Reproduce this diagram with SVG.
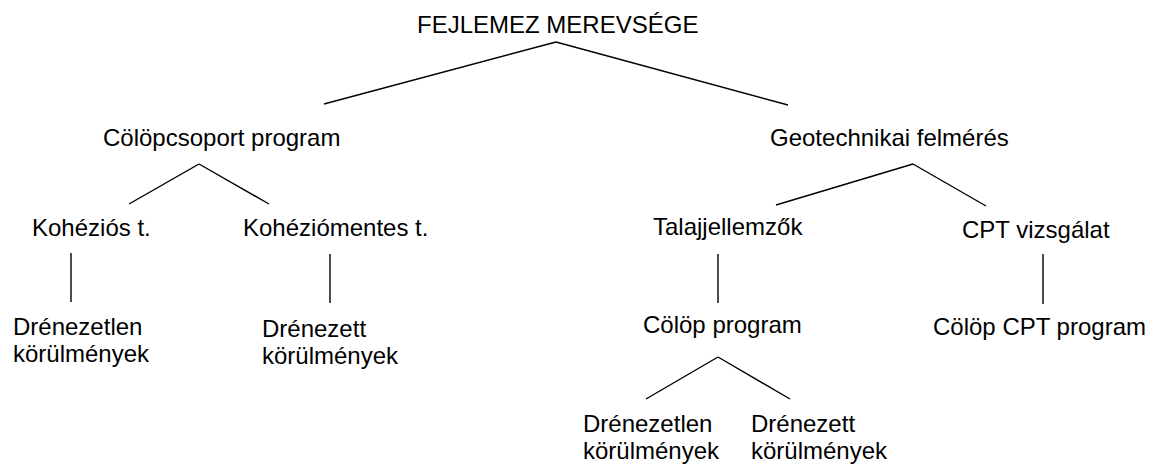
<svg xmlns="http://www.w3.org/2000/svg" width="1156" height="464" viewBox="0 0 1156 464">
<style>
text{font-family:"Liberation Sans",Arial,sans-serif;font-size:24px;fill:#000}
.c line{stroke:#000;stroke-width:1.4;fill:none}
</style>
<rect width="1156" height="464" fill="#fff"/>
<g class="c" id="connectors">
<line x1="324" y1="104" x2="556" y2="42"/>
<line x1="556" y1="42" x2="788" y2="105"/>
<line x1="129" y1="204" x2="199" y2="164"/>
<line x1="199" y1="164" x2="269" y2="204"/>
<line x1="776" y1="205" x2="913" y2="164"/>
<line x1="913" y1="164" x2="986" y2="206"/>
<line x1="71" y1="253" x2="71" y2="302"/>
<line x1="330" y1="254" x2="330" y2="303"/>
<line x1="718" y1="254" x2="718" y2="303"/>
<line x1="1043" y1="254" x2="1043" y2="304"/>
<line x1="646" y1="399" x2="718" y2="357"/>
<line x1="718" y1="357" x2="790" y2="399"/>
</g>
<g id="root"><text x="417" y="33">FEJLEMEZ MEREVSÉGE</text></g>
<g id="colopcsoport"><text x="103" y="146">Cölöpcsoport program</text></g>
<g id="geotechnikai"><text x="770" y="146">Geotechnikai felmérés</text></g>
<g id="kohezios"><text x="32" y="236">Kohéziós t.</text></g>
<g id="koheziomentes"><text x="243" y="236">Kohéziómentes t.</text></g>
<g id="talaj"><text x="653" y="235">Talajjellemzők</text></g>
<g id="cpt"><text x="962" y="238">CPT vizsgálat</text></g>
<g id="drenezetlen1"><text x="13" y="335">Drénezetlen</text><text x="13" y="362">körülmények</text></g>
<g id="drenezett1"><text x="262" y="337">Drénezett</text><text x="262" y="364">körülmények</text></g>
<g id="colopprogram"><text x="643" y="333">Cölöp program</text></g>
<g id="colopcpt"><text x="933" y="335">Cölöp CPT program</text></g>
<g id="drenezetlen2"><text x="583" y="432">Drénezetlen</text><text x="583" y="459">körülmények</text></g>
<g id="drenezett2"><text x="751" y="432">Drénezett</text><text x="751" y="459">körülmények</text></g>
</svg>
